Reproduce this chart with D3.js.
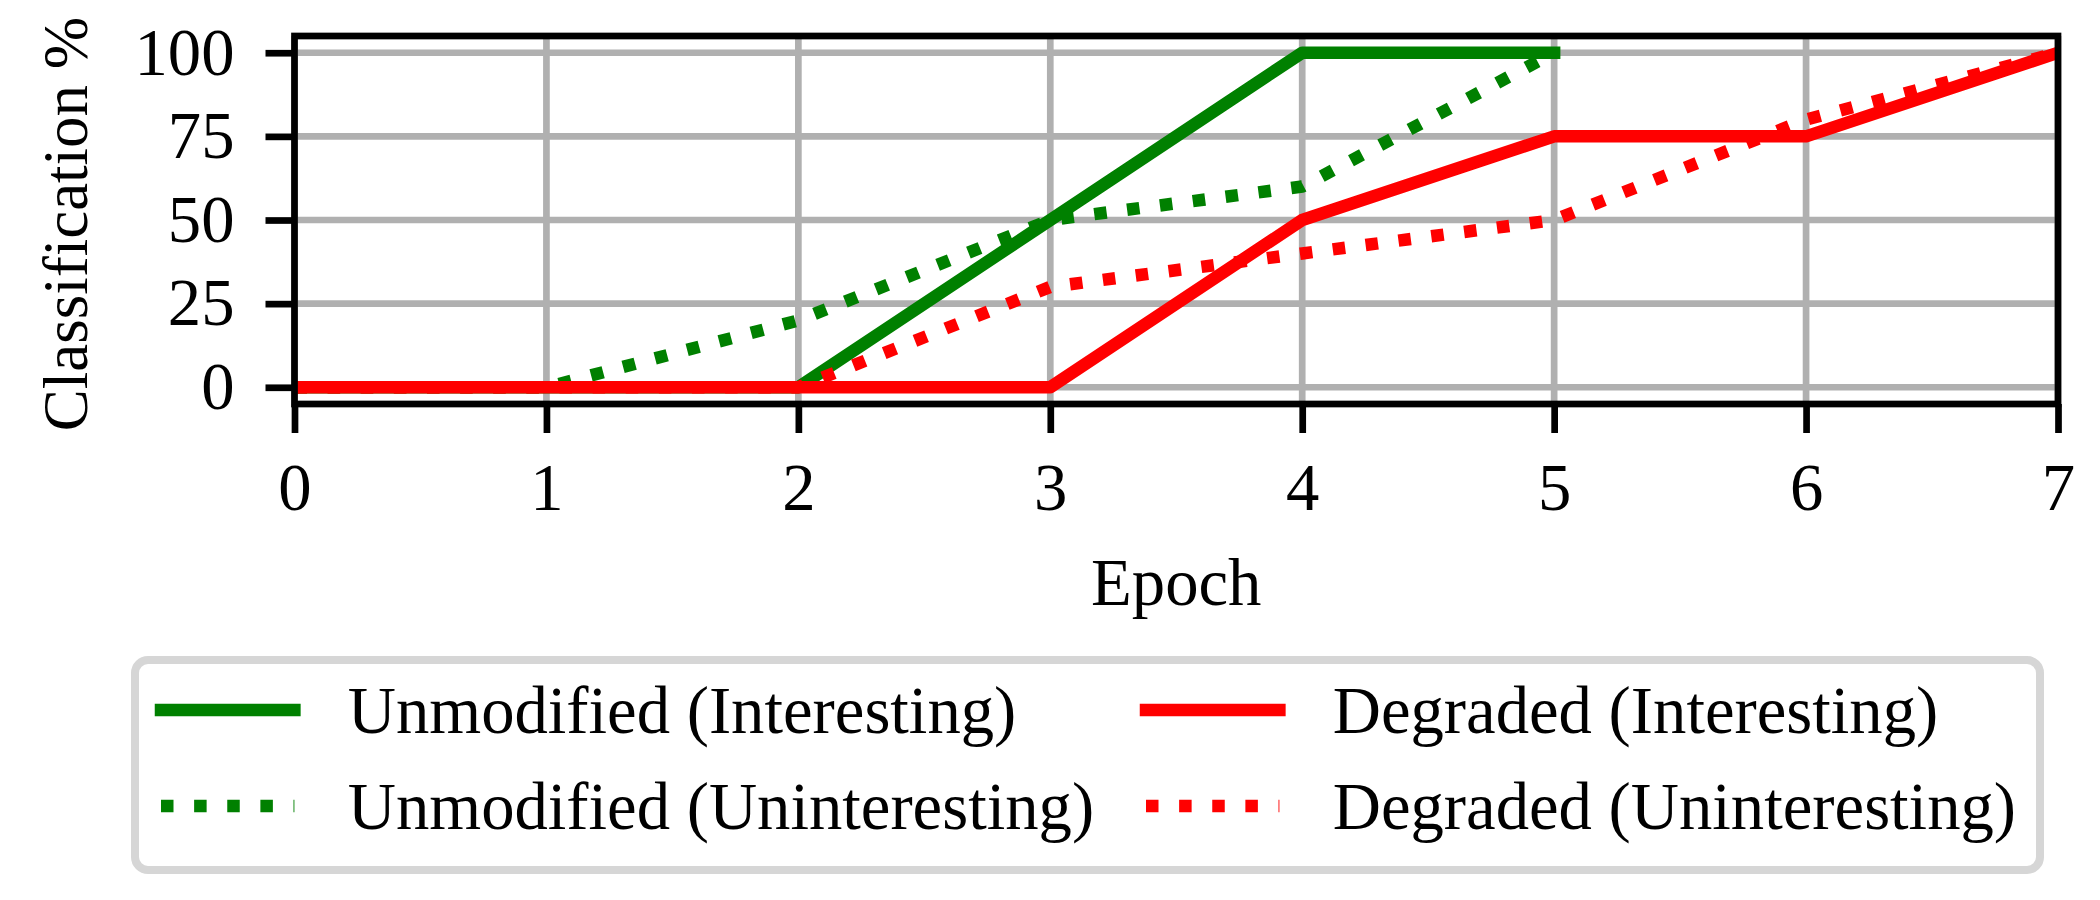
<!DOCTYPE html>
<html>
<head>
<meta charset="utf-8">
<script src="https://cdn.jsdelivr.net/npm/d3@7"></script>
<style>
  body { margin: 0; background: #fff; }
  text { font-family: "Liberation Serif", "Times New Roman", serif; fill: #000; }
</style>
</head>
<body>
<svg id="chart" width="2100" height="900"></svg>
<script>
// data
var epochs = [0, 1, 2, 3, 4, 5, 6, 7];
var unmodInteresting   = [0, 0, 0, 50, 100, 100];
var unmodUninteresting = [0, 0, 20, 50, 60, 100];
var degInteresting     = [0, 0, 0, 0, 50, 75, 75, 100];
var degUninteresting   = [0, 0, 0, 30, 40, 50, 80, 100];

var xTicks = [0, 1, 2, 3, 4, 5, 6, 7];
var yTicks = [0, 25, 50, 75, 100];

var seriesNames = ["Unmodified (Interesting)", "Unmodified (Uninteresting)",
                   "Degraded (Interesting)", "Degraded (Uninteresting)"];
var seriesColors = ["green", "green", "red", "red"];
var seriesDotted = [false, true, false, true];
var seriesValues = [unmodInteresting, unmodUninteresting, degInteresting, degUninteresting];

var fs = 66.7, lw = 12.5, thin = 6.7, tickLen = 29;
// plot box (top is a reserved window name, so prefix everything)
var pLeft = 294.5, pRight = 2058, pTop = 36, pBottom = 404;

var svg = d3.select("#chart");

var x = d3.scaleLinear().domain([0, 7]).range([pLeft, pRight]);
var y = d3.scaleLinear().domain([-5, 105]).range([pBottom, pTop]);

svg.append("defs").append("clipPath").attr("id", "plotclip")
  .append("rect").attr("x", pLeft).attr("y", pTop)
  .attr("width", pRight - pLeft).attr("height", pBottom - pTop);

//// grid
var grid = svg.append("g");
grid.selectAll(".gx").data(xTicks).enter().append("line")
  .attr("x1", function(d){ return x(d); }).attr("x2", function(d){ return x(d); })
  .attr("y1", pTop).attr("y2", pBottom)
  .attr("stroke", "#b0b0b0").attr("stroke-width", thin);
grid.selectAll(".gy").data(yTicks).enter().append("line")
  .attr("y1", function(d){ return y(d); }).attr("y2", function(d){ return y(d); })
  .attr("x1", pLeft).attr("x2", pRight)
  .attr("stroke", "#b0b0b0").attr("stroke-width", thin);

//// lines
var line = d3.line()
  .x(function(d, i){ return x(epochs[i]); })
  .y(function(d){ return y(d); });

var lines = svg.append("g").attr("clip-path", "url(#plotclip)");
seriesValues.forEach(function(vals, k){
  var p = lines.append("path")
    .attr("d", line(vals))
    .attr("fill", "none")
    .attr("stroke", seriesColors[k])
    .attr("stroke-width", lw)
    .attr("stroke-linejoin", "round");
  if (seriesDotted[k]) {
    p.attr("stroke-dasharray", (lw * 1) + "," + (lw * 1.65)).attr("stroke-linecap", "butt");
  } else {
    p.attr("stroke-linecap", "square");
  }
});

//// axes
var xAxis = svg.append("g").attr("transform", "translate(0," + pBottom + ")")
  .call(d3.axisBottom(x).tickValues(xTicks).tickFormat(d3.format("d"))
        .tickSize(tickLen).tickPadding(30));
var yAxis = svg.append("g").attr("transform", "translate(" + pLeft + ",0)")
  .call(d3.axisLeft(y).tickValues(yTicks).tickFormat(d3.format("d"))
        .tickSize(tickLen).tickPadding(31));

[xAxis, yAxis].forEach(function(a){
  a.select(".domain").remove();
  a.selectAll(".tick line").attr("stroke", "#000").attr("stroke-width", thin);
  a.selectAll(".tick text").style("font-size", fs + "px")
    .style("font-family", "'Liberation Serif', serif").attr("fill", "#000");
});

// spines
svg.append("rect")
  .attr("x", pLeft).attr("y", pTop)
  .attr("width", pRight - pLeft).attr("height", pBottom - pTop)
  .attr("fill", "none").attr("stroke", "#000").attr("stroke-width", thin)
  .attr("stroke-linecap", "square");

// axis labels
svg.append("text")
  .attr("x", (pLeft + pRight) / 2).attr("y", 605)
  .attr("text-anchor", "middle").style("font-size", fs + "px")
  .text("Epoch");
svg.append("text")
  .attr("transform", "translate(87,224) rotate(-90)")
  .attr("text-anchor", "middle").style("font-size", "63px")
  .text("Classification %");

//// legend
var lg = svg.append("g");
lg.append("rect")
  .attr("x", 135).attr("y", 660).attr("width", 2040 - 135).attr("height", 870 - 660)
  .attr("rx", 13).attr("ry", 13)
  .attr("fill", "#fff").attr("stroke", "#d6d6d6").attr("stroke-width", 8);

var colX = [161, 1146], rowY = [710, 806];
seriesNames.forEach(function(name, k){
  var c = Math.floor(k / 2), r = k % 2;
  var h = lg.append("line")
    .attr("x1", colX[c]).attr("x2", colX[c] + 2 * fs)
    .attr("y1", rowY[r]).attr("y2", rowY[r])
    .attr("stroke", seriesColors[k]).attr("stroke-width", lw);
  if (seriesDotted[k]) h.attr("stroke-dasharray", (lw * 1) + "," + (lw * 1.65));
  else h.attr("stroke-linecap", "square");
  lg.append("text")
    .attr("x", colX[c] + 2 * fs + 0.8 * fs)
    .attr("y", rowY[r] + 23)
    .style("font-size", fs + "px")
    .text(name);
});
</script>
</body>
</html>
